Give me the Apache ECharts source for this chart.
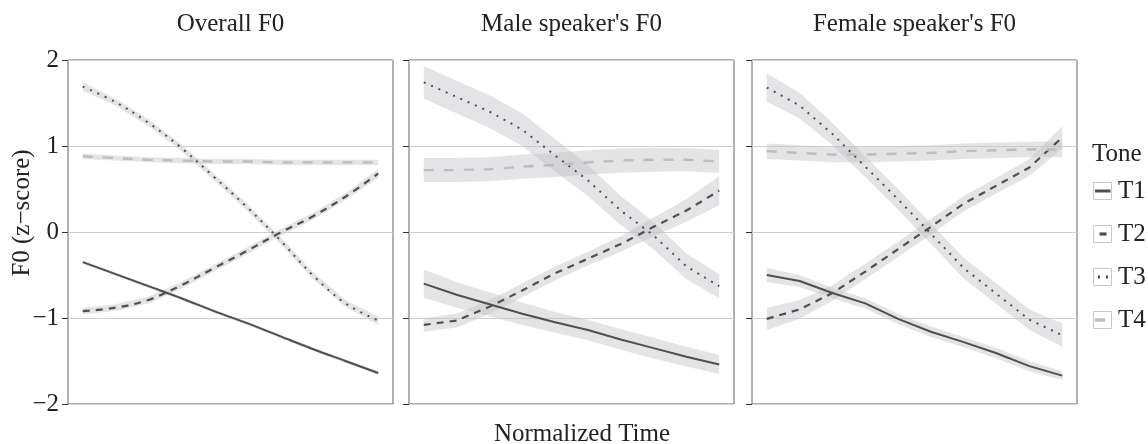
<!DOCTYPE html>
<html>
<head>
<meta charset="utf-8">
<script src="https://cdn.jsdelivr.net/npm/echarts@6/dist/echarts.min.js"></script>
<style>
html,body{margin:0;padding:0;background:#fff;}
#chart{width:1148px;height:444px;}
</style>
</head>
<body>
<div id="chart"></div>
<script>
// ---- data ----
const timePoints = [1, 2, 3, 4, 5, 6, 7, 8, 9, 10];
const yTickValues = [-2, -1, 0, 1, 2];
const panelTitles = ["Overall F0", "Male speaker's F0", "Female speaker's F0"];
const toneNames = ["T1", "T2", "T3", "T4"];

// Overall
const overallT1 = [-0.35, -0.49, -0.63, -0.77, -0.92, -1.06, -1.21, -1.36, -1.50, -1.64];
const overallT2 = [-0.92, -0.88, -0.79, -0.62, -0.42, -0.22, -0.01, 0.18, 0.41, 0.68];
const overallT3 = [1.69, 1.51, 1.27, 0.98, 0.64, 0.29, -0.09, -0.50, -0.83, -1.03];
const overallT4 = [0.88, 0.86, 0.84, 0.83, 0.82, 0.82, 0.81, 0.81, 0.81, 0.81];
const overallT1ci = [0.02, 0.02, 0.02, 0.02, 0.02, 0.02, 0.02, 0.02, 0.02, 0.02];
const overallT2ci = [0.04, 0.04, 0.04, 0.04, 0.04, 0.04, 0.04, 0.04, 0.04, 0.05];
const overallT3ci = [0.05, 0.04, 0.04, 0.04, 0.04, 0.04, 0.04, 0.04, 0.04, 0.05];
const overallT4ci = [0.03, 0.03, 0.03, 0.03, 0.03, 0.03, 0.03, 0.03, 0.03, 0.03];

// Male speaker
const maleT1 = [-0.60, -0.73, -0.84, -0.95, -1.05, -1.14, -1.25, -1.35, -1.45, -1.54];
const maleT2 = [-1.08, -1.03, -0.87, -0.68, -0.48, -0.31, -0.14, 0.06, 0.25, 0.48];
const maleT3 = [1.74, 1.57, 1.40, 1.19, 0.89, 0.60, 0.25, -0.04, -0.40, -0.63];
const maleT4 = [0.72, 0.72, 0.73, 0.76, 0.78, 0.81, 0.83, 0.84, 0.84, 0.82];
const maleT1ci = [0.165, 0.15, 0.14, 0.13, 0.12, 0.12, 0.12, 0.12, 0.115, 0.11];
const maleT2ci = [0.08, 0.08, 0.08, 0.08, 0.08, 0.08, 0.09, 0.11, 0.13, 0.17];
const maleT3ci = [0.19, 0.19, 0.19, 0.19, 0.19, 0.18, 0.17, 0.16, 0.15, 0.14];
const maleT4ci = [0.14, 0.14, 0.14, 0.14, 0.14, 0.14, 0.14, 0.14, 0.135, 0.135];

// Female speaker
const femaleT1 = [-0.50, -0.57, -0.71, -0.83, -1.01, -1.16, -1.28, -1.41, -1.56, -1.67];
const femaleT2 = [-1.01, -0.90, -0.71, -0.46, -0.20, 0.06, 0.33, 0.54, 0.75, 1.10];
const femaleT3 = [1.68, 1.47, 1.14, 0.76, 0.38, -0.02, -0.42, -0.72, -1.02, -1.20];
const femaleT4 = [0.94, 0.92, 0.90, 0.90, 0.91, 0.92, 0.94, 0.95, 0.96, 0.96];
const femaleT1ci = [0.08, 0.07, 0.06, 0.06, 0.06, 0.06, 0.06, 0.06, 0.06, 0.05];
const femaleT2ci = [0.13, 0.11, 0.09, 0.09, 0.09, 0.09, 0.09, 0.09, 0.10, 0.13];
const femaleT3ci = [0.165, 0.15, 0.13, 0.12, 0.12, 0.12, 0.12, 0.12, 0.12, 0.135];
const femaleT4ci = [0.09, 0.09, 0.09, 0.09, 0.09, 0.09, 0.09, 0.09, 0.09, 0.09];

// ---- build ----
const panels = [
  { means: [overallT1, overallT2, overallT3, overallT4], cis: [overallT1ci, overallT2ci, overallT3ci, overallT4ci], smooth: 0.35 },
  { means: [maleT1, maleT2, maleT3, maleT4], cis: [maleT1ci, maleT2ci, maleT3ci, maleT4ci], smooth: false },
  { means: [femaleT1, femaleT2, femaleT3, femaleT4], cis: [femaleT1ci, femaleT2ci, femaleT3ci, femaleT4ci], smooth: false }
];

const FONT = "'Liberation Serif', 'DejaVu Serif', serif";
const dark = '#4f4f4f';
const toneStyles = [
  { color: dark, width: 2, type: 'solid' },
  { color: dark, width: 2.2, type: [7, 6] },
  { color: dark, width: 2, type: [2, 6] },
  { color: '#bdbdbd', width: 2.4, type: [10, 10] }
];
const bandColor = 'rgba(194,194,198,0.44)';

const gridLefts = [68, 409, 752];
const gridWidth = 325;
const gridTop = 60;
const gridHeight = 344;

const grids = gridLefts.map(l => ({
  left: l, top: gridTop, width: gridWidth, height: gridHeight,
  show: true, borderColor: '#666', borderWidth: 1, backgroundColor: 'transparent'
}));
const xAxes = gridLefts.map((l, i) => ({
  type: 'value', gridIndex: i, min: 0.55, max: 10.45,
  axisLine: { show: false }, axisTick: { show: false }, axisLabel: { show: false }, splitLine: { show: false }
}));
const minus = v => (v < 0 ? '\u2212' + Math.abs(v) : String(v));
const yAxes = gridLefts.map((l, i) => ({
  type: 'value', gridIndex: i, min: yTickValues[0], max: yTickValues[yTickValues.length - 1], interval: 1,
  axisLine: { show: false },
  axisTick: { show: true, length: 6, lineStyle: { color: '#333', width: 1 } },
  axisLabel: { show: i === 0, margin: 9, fontSize: 25, fontFamily: FONT, color: '#222', formatter: minus },
  splitLine: { show: true, lineStyle: { color: '#d0d0d0', width: 1 } }
}));

const series = [];
panels.forEach((p, gi) => {
  p.means.forEach((mean, ti) => {
    const ci = p.cis[ti];
    series.push({
      type: 'custom', xAxisIndex: gi, yAxisIndex: gi, silent: true, z: 1,
      data: [[timePoints[0], mean[0]]],
      renderItem: function (params, api) {
        const upper = timePoints.map((t, k) => api.coord([t, mean[k] + ci[k]]));
        const lower = timePoints.map((t, k) => api.coord([t, mean[k] - ci[k]])).reverse();
        return { type: 'polygon', shape: { points: upper.concat(lower) }, style: { fill: bandColor, stroke: null } };
      }
    });
  });
  p.means.forEach((mean, ti) => {
    const st = toneStyles[ti];
    series.push({
      type: 'line', name: toneNames[ti], xAxisIndex: gi, yAxisIndex: gi, z: 3,
      data: timePoints.map((t, k) => [t, mean[k]]),
      showSymbol: false, symbol: 'none', smooth: p.smooth, silent: true,
      lineStyle: { color: st.color, width: st.width, type: st.type, cap: 'butt' }
    });
  });
});

const titles = panelTitles.map((t, i) => ({
  text: t, left: gridLefts[i] + gridWidth / 2, top: 12, textAlign: 'center', padding: 0,
  textStyle: { fontSize: 25, fontFamily: FONT, fontWeight: 'normal', color: '#222' }
}));

// legend graphics
const legendX = 1093;
const legendY0 = 191;
const legendStep = 43;
const keyOffsets = [0, 8.5, 5, 0];
const graphics = [
  { type: 'text', x: 1092, y: 154, style: { text: 'Tone', font: '25px ' + FONT, fill: '#222', align: 'left', verticalAlign: 'middle' } },
  { type: 'text', x: 22.5, y: 213, rotation: Math.PI / 2, style: { text: 'F0 (z\u2212score)', font: '25px ' + FONT, fill: '#222', align: 'center', verticalAlign: 'middle' } },
  { type: 'text', x: 582, y: 434, style: { text: 'Normalized Time', font: '25px ' + FONT, fill: '#222', align: 'center', verticalAlign: 'middle' } }
];
toneNames.forEach((name, i) => {
  const cy = legendY0 + i * legendStep;
  const st = toneStyles[i];
  graphics.push({ type: 'rect', shape: { x: legendX + 0.5, y: cy - 8.5, width: 18, height: 17 }, style: { fill: '#fff', stroke: '#c8c8c8', lineWidth: 1 } });
  graphics.push({ type: 'line', shape: { x1: legendX + 2, y1: cy, x2: legendX + 17.5, y2: cy },
    style: { stroke: st.color, lineWidth: st.width + 1, lineDash: st.type === 'solid' ? null : st.type, lineDashOffset: keyOffsets[i] } });
  graphics.push({ type: 'text', x: legendX + 25, y: cy, style: { text: name, font: '25px ' + FONT, fill: '#222', align: 'left', verticalAlign: 'middle' } });
});

const chart = echarts.init(document.getElementById('chart'), null, { renderer: 'canvas' });
chart.setOption({
  animation: false,
  backgroundColor: '#fff',
  title: titles,
  grid: grids,
  xAxis: xAxes,
  yAxis: yAxes,
  series: series,
  graphic: graphics
});
</script>
</body>
</html>
